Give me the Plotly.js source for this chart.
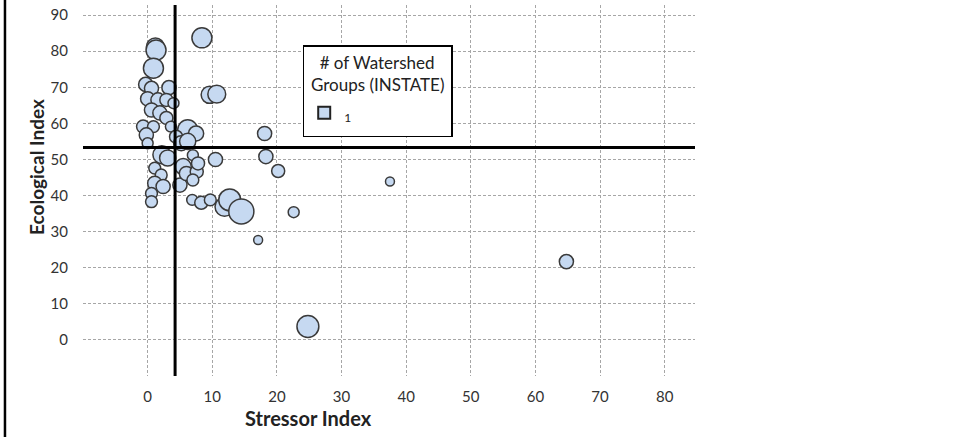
<!DOCTYPE html>
<html>
<head>
<meta charset="utf-8">
<script src="https://cdn.plot.ly/plotly-3.0.1.min.js"></script>
<style>html,body{margin:0;padding:0;background:#fff;}#chart{width:969px;height:437px;}</style>
</head>
<body>
<div id="chart"></div>
<script>
// Stressor Index (x), Ecological Index (y), bubble value
const stressor = [8.4, 1.2, 1.3, 0.9, -0.3, 0.6, 3.3, 9.6, 10.7, 0.0, 1.6, 2.9, 4.0, 0.6, 1.9, 2.9, -0.7, 0.9, 3.6, 6.2, 7.5, 18.1, -0.2, 0.0, 4.4, 5.2, 6.2, 2.2, 3.1, 7.0, 10.5, 18.3, 20.2, 1.1, 2.1, 1.1, 2.4, 0.6, 0.6, 5.0, 5.5, 6.0, 7.6, 7.8, 7.0, 6.9, 8.3, 9.7, 11.9, 12.7, 14.5, 22.6, 17.1, 24.8, 37.5, 64.8];
const ecological = [83.7, 81.2, 80.3, 75.3, 70.8, 69.7, 69.9, 67.9, 68.1, 66.8, 66.5, 66.5, 65.6, 63.7, 62.9, 61.5, 59.1, 59.1, 59.1, 58.2, 57.2, 57.2, 56.8, 54.5, 56.3, 54.5, 55.0, 51.3, 50.4, 51.2, 50.0, 50.8, 46.8, 47.6, 45.7, 43.4, 42.5, 40.6, 38.3, 42.9, 48.0, 46.1, 46.6, 48.9, 44.3, 38.8, 38.0, 38.8, 36.9, 38.8, 35.6, 35.4, 27.7, 3.7, 43.9, 21.7];
const bubbleValue = [4.0, 3.2, 4.0, 4.0, 2.0, 2.0, 2.0, 2.9, 3.2, 2.0, 2.0, 1.7, 1.2, 2.0, 2.0, 1.7, 1.7, 1.4, 1.2, 4.0, 2.3, 2.0, 2.0, 1.2, 1.7, 2.3, 2.6, 3.2, 2.6, 1.2, 2.0, 2.0, 1.7, 1.4, 1.4, 2.0, 2.0, 1.4, 1.4, 2.0, 2.6, 2.0, 1.7, 1.7, 1.4, 1.2, 1.7, 1.4, 3.6, 4.8, 6.3, 1.2, 0.8, 4.8, 0.8, 2.0];

// reference thresholds
const stressorThreshold = 4.25;
const ecologicalThreshold = 53.3;

const xTickVals = [-10, 0, 10, 20, 30, 40, 50, 60, 70, 80];
const xTickText = ['', '0', '10', '20', '30', '40', '50', '60', '70', '80'];
const yTickVals = [-10, 0, 10, 20, 30, 40, 50, 60, 70, 80, 90];
const yTickText = ['', '0', '10', '20', '30', '40', '50', '60', '70', '80', '90'];

const xTitle = 'Stressor Index';
const yTitle = 'Ecological Index';
const legendName = '1';
const legendTitle = '&nbsp;&nbsp;&nbsp;# of Watershed<br>&nbsp;Groups (INSTATE)&nbsp;';

const fill = '#c6d9f1';
const edge = '#3a3a3a';

const traces = [
  {
    type: 'scatter', mode: 'markers',
    x: stressor, y: ecological,
    showlegend: false,
    hoverinfo: 'x+y',
    marker: {
      size: bubbleValue, sizemode: 'area', sizeref: 0.02,
      color: fill, opacity: 1,
      line: {color: edge, width: 1.5}
    }
  },
  {
    type: 'scatter', mode: 'markers',
    x: [null], y: [null],
    name: '<span style="font-size:12px">' + legendName + '</span>', showlegend: true,
    marker: {symbol: 'square', size: 16, color: fill, line: {color: '#222', width: 1.5}}
  }
];

const layout = {
  width: 969, height: 437,
  margin: {l: 83, r: 274, t: 5, b: 61},
  paper_bgcolor: '#fff', plot_bgcolor: '#fff',
  font: {family: 'Lato, "Open Sans", sans-serif', color: '#333', size: 15},
  showlegend: true,
  legend: {
    x: 0.359, y: 0.892, xanchor: 'left', yanchor: 'top',
    bgcolor: '#fff', bordercolor: '#000', borderwidth: 1.5,
    font: {size: 24, color: '#222'},
    title: {text: legendTitle, side: 'top center', font: {size: 17, color: '#222'}},
    itemsizing: 'constant'
  },
  xaxis: {
    range: [-10, 84.7], tickmode: 'array', tickvals: xTickVals, ticktext: xTickText,
    showgrid: true, gridcolor: '#a6a6a6', gridwidth: 1, griddash: '3px,2px',
    zeroline: false, showline: false, ticks: '', ticklabelstandoff: 10,
    tickfont: {size: 15, color: '#333'},
    fixedrange: true
  },
  yaxis: {
    range: [-10, 92.8], tickmode: 'array', tickvals: yTickVals, ticktext: yTickText,
    showgrid: true, gridcolor: '#a6a6a6', gridwidth: 1, griddash: '3px,2px',
    zeroline: false, showline: false, ticks: '', ticklabelstandoff: 14,
    tickfont: {size: 15, color: '#333'},
    fixedrange: true
  },
  annotations: [
    {text: '<b>' + xTitle + '</b>', xref: 'paper', yref: 'paper', x: (308 - 83) / 612, y: -(418 - 376) / 371,
     xanchor: 'center', yanchor: 'middle', showarrow: false, font: {size: 20, color: '#222'}},
    {text: '<b>' + yTitle + '</b>', xref: 'paper', yref: 'paper', x: -(83 - 37) / 612, y: (376 - 167) / 371,
     xanchor: 'center', yanchor: 'middle', textangle: -90, showarrow: false, font: {size: 19, color: '#222'}}
  ],
  shapes: [
    {type: 'line', xref: 'x', yref: 'paper', x0: stressorThreshold, x1: stressorThreshold, y0: 0, y1: 1,
     line: {color: '#000', width: 3}, layer: 'above'},
    {type: 'line', xref: 'paper', yref: 'y', x0: 0, x1: 1, y0: ecologicalThreshold, y1: ecologicalThreshold,
     line: {color: '#000', width: 3}, layer: 'above'},
    {type: 'line', xref: 'paper', yref: 'paper', x0: -0.1275, x1: -0.1275, y0: -0.2, y1: 1.02,
     line: {color: '#000', width: 2.5}}
  ]
};

Plotly.newPlot('chart', traces, layout, {displayModeBar: false, staticPlot: true});
</script>
</body>
</html>
